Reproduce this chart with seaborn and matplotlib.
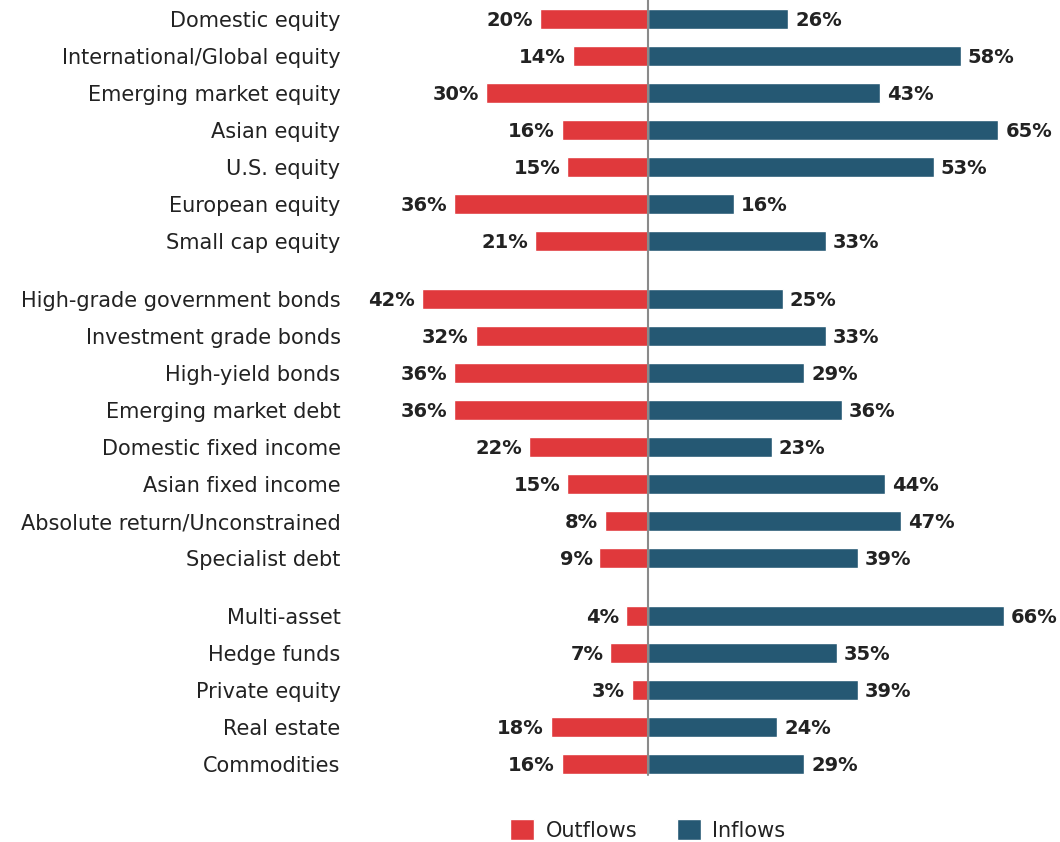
import matplotlib
matplotlib.use("Agg")
import matplotlib.pyplot as plt
from matplotlib.patches import Patch
import seaborn as sns
import numpy as np
import pandas as pd

groups = [
    ["Domestic equity", "International/Global equity", "Emerging market equity",
     "Asian equity", "U.S. equity", "European equity", "Small cap equity"],
    ["High-grade government bonds", "Investment grade bonds", "High-yield bonds",
     "Emerging market debt", "Domestic fixed income", "Asian fixed income",
     "Absolute return/Unconstrained", "Specialist debt"],
    ["Multi-asset", "Hedge funds", "Private equity", "Real estate", "Commodities"],
]
outflows = [20, 14, 30, 16, 15, 36, 21,
            42, 32, 36, 36, 22, 15, 8, 9,
            4, 7, 3, 18, 16]
inflows = [26, 58, 43, 65, 53, 16, 33,
           25, 33, 29, 36, 23, 44, 47, 39,
           66, 35, 39, 24, 29]

RED = "#E0393C"
BLUE = "#255873"
TXT = "#222222"
GAP = 0.57

categories = []
pos = []
offset = 0.0
for gi, g in enumerate(groups):
    for i, c in enumerate(g):
        categories.append(c)
        pos.append(offset + i)
    offset += len(g) + GAP
pos = np.array(pos)

df = pd.DataFrame({"cat": categories, "pos": pos,
                   "out": -np.array(outflows), "inn": np.array(inflows)})

sns.set_theme(style="white")
plt.rcParams["font.family"] = ["DejaVu Sans"]

fig = plt.figure(figsize=(10.6, 8.42), dpi=100)
ax = fig.add_axes([360 / 1060, (842 - 790) / 842, 700 / 1060, 790 / 842])

sns.barplot(data=df, x="out", y="pos", orient="h", native_scale=True,
            color=RED, width=0.54, saturation=1, ax=ax)
sns.barplot(data=df, x="inn", y="pos", orient="h", native_scale=True,
            color=BLUE, width=0.54, saturation=1, ax=ax)

for cont, vals in zip(ax.containers, [outflows, inflows]):
    texts = ax.bar_label(cont, labels=[f"{v}%" for v in vals], padding=5,
                         fontsize=14, fontweight="semibold", color=TXT)
    for t in texts:
        x0, y0 = t.xyann
        t.xyann = (x0, y0 - 1)

ax.set_xlim(-(648 - 360) / 5.39, (1060 - 648) / 5.39)
ax.set_ylim((790 - 19) / 37, -19 / 37)
ax.plot([0, 0], [-19 / 37, (775 - 19) / 37], color="#8a8a8a", lw=1.5, zorder=5)

ax.set_yticks(pos)
ax.set_yticklabels(categories, fontsize=15, color=TXT)
ax.tick_params(axis="y", length=0, pad=14)
ax.set_xticks([])
ax.set_xlabel("")
ax.set_ylabel("")
for s in ax.spines.values():
    s.set_visible(False)

handles = [Patch(facecolor=RED, label="Outflows"), Patch(facecolor=BLUE, label="Inflows")]
fig.legend(handles=handles, loc="center", bbox_to_anchor=(648 / 1060, 1 - 830 / 842),
           ncol=2, frameon=False, fontsize=15, handlelength=1.15, handleheight=1.15,
           columnspacing=1.9, handletextpad=0.55, labelcolor=TXT)

fig.savefig("out.png", dpi=100)
